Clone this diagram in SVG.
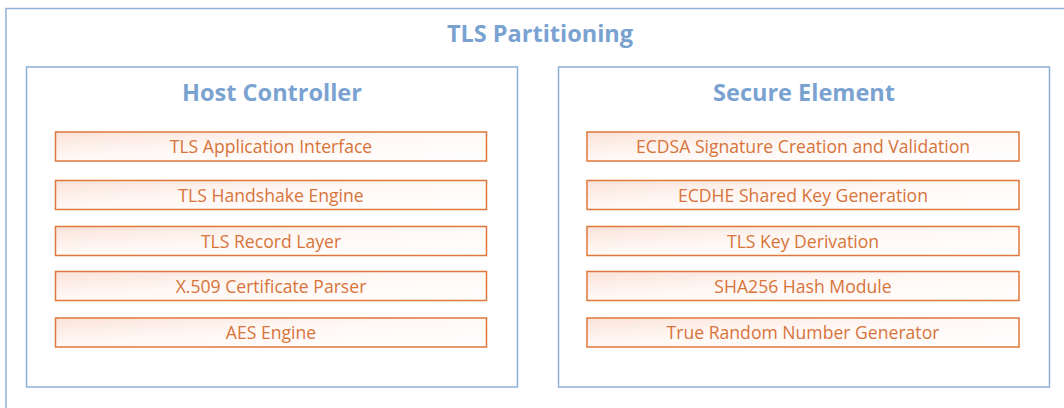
<svg xmlns="http://www.w3.org/2000/svg" width="1064" height="408" viewBox="0 0 1064 408">
<defs>
<linearGradient id="g" x1="0" y1="0" x2="1" y2="1" gradientUnits="objectBoundingBox">
<stop offset="0" stop-color="#fbe3da"/>
<stop offset="0.45" stop-color="#fff8f5"/>
<stop offset="1" stop-color="#ffffff"/>
</linearGradient>
<style>
.box{fill:#fff;stroke:#8eb0d8;stroke-width:1.5}
.title{font-family:"Open Sans","Liberation Sans",Arial,sans-serif;font-weight:bold;fill:#7aa2d1;text-anchor:middle;font-size:23.5px}
.row rect{fill:url(#g);stroke:#e0773a;stroke-width:1.5}
.row text{font-family:"Open Sans","Liberation Sans",Arial,sans-serif;fill:#d8733a;text-anchor:middle;font-size:17.6px}
</style>
</defs>
<rect width="1064" height="408" fill="#fff"/>
<g id="outer">
<rect class="box" x="6" y="8.5" width="1070" height="420"/>
<text class="title" x="540" y="41.5">TLS Partitioning</text>
</g>
<g id="host">
<rect class="box" x="26.5" y="67" width="491" height="320"/>
<text class="title" x="272" y="100.5">Host Controller</text>
</g>
<g id="secure">
<rect class="box" x="558.5" y="67" width="491" height="320"/>
<text class="title" x="804" y="100.5">Secure Element</text>
</g>
<g id="h1" class="row"><rect x="55.5" y="132" width="431" height="29"/><text x="271" y="153">TLS Application Interface</text></g>
<g id="h2" class="row"><rect x="55.5" y="180.5" width="431" height="29"/><text x="271" y="201.5">TLS Handshake Engine</text></g>
<g id="h3" class="row"><rect x="55.5" y="226.5" width="431" height="29"/><text x="271" y="247.5">TLS Record Layer</text></g>
<g id="h4" class="row"><rect x="55.5" y="271.5" width="431" height="29"/><text x="271" y="292.5">X.509 Certificate Parser</text></g>
<g id="h5" class="row"><rect x="55.5" y="318" width="431" height="29"/><text x="271" y="339">AES Engine</text></g>
<g id="s1" class="row"><rect x="587" y="132" width="432" height="29"/><text x="803" y="153">ECDSA Signature Creation and Validation</text></g>
<g id="s2" class="row"><rect x="587" y="180.5" width="432" height="29"/><text x="803" y="201.5">ECDHE Shared Key Generation</text></g>
<g id="s3" class="row"><rect x="587" y="226.5" width="432" height="29"/><text x="803" y="247.5">TLS Key Derivation</text></g>
<g id="s4" class="row"><rect x="587" y="271.5" width="432" height="29"/><text x="803" y="292.5">SHA256 Hash Module</text></g>
<g id="s5" class="row"><rect x="587" y="318" width="432" height="29"/><text x="803" y="339">True Random Number Generator</text></g>
<g id="connectors"/>
</svg>
